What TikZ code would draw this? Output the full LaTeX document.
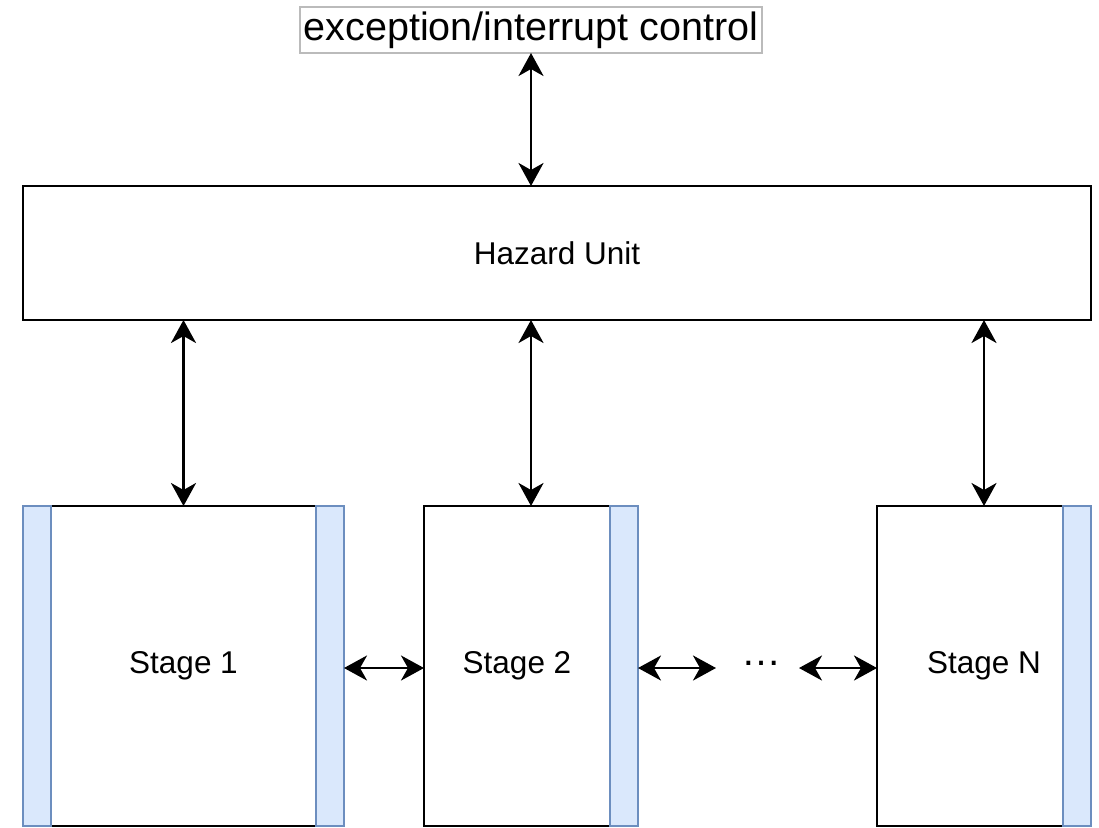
\documentclass[tikz,border=0pt]{standalone}
\usepackage{fontspec}
\setmainfont{Liberation Sans}
\usetikzlibrary{arrows.meta,positioning}
\definecolor{barfill}{HTML}{DAE8FC}
\definecolor{barline}{HTML}{6C8EBF}
\definecolor{tagline}{HTML}{BBBBBB}
\begin{document}
\begin{tikzpicture}[x=1pt,y=-1pt,
  box/.style={draw=black,line width=2.8pt,fill=white,inner sep=0pt,outer sep=0pt,anchor=north west,font=\fontsize{31.5}{36}\selectfont},
  bar/.style={draw=barline,line width=2.6pt,fill=barfill,inner sep=0pt,outer sep=0pt,anchor=north west,minimum width=28pt},
  unit/.style={inner sep=0pt,outer sep=0pt,anchor=north west},
  link/.style={line width=2.8pt,{Stealth[length=23pt,width=25pt,inset=7pt]}-{Stealth[length=23pt,width=25pt,inset=7pt]}}
]
\useasboundingbox (0,0) rectangle (1099,827);

% top label
\node[draw=tagline,line width=1.2pt,inner sep=0pt,outer sep=0pt,minimum width=462pt,minimum height=46pt,
      font=\fontsize{39.5}{44}\selectfont] (exc) at (531,30) {exception/interrupt control};

% hazard unit
\node[box,minimum width=1068pt,minimum height=134pt] (haz) at (23,186) {Hazard Unit};

% stage 1
\node[unit,minimum width=321pt,minimum height=320pt] (st1) at (23,506) {};
\node[box,minimum width=265pt,minimum height=320pt] (s1) at (51,506) {Stage 1};
\node[bar,minimum height=320pt] (s1l) at (23,506) {};
\node[bar,minimum height=320pt] (s1r) at (316,506) {};

% stage 2
\node[unit,minimum width=214pt,minimum height=320pt] (st2) at (424,506) {};
\node[box,minimum width=186pt,minimum height=320pt] (s2) at (424,506) {Stage 2};
\node[bar,minimum height=320pt] (s2r) at (610,506) {};

% stage N
\node[unit,minimum width=214pt,minimum height=320pt] (stn) at (877,506) {};
\node[box,minimum width=186pt,minimum height=320pt] (sn) at (877,506) {};
\node[font=\fontsize{31.5}{36}\selectfont] (snt) at (984,666) {Stage N};
\node[bar,minimum height=320pt] (snr) at (1063,506) {};

% ellipsis between stages
\node[font=\fontsize{40}{44}\selectfont,anchor=base,inner sep=0pt] (dots) at (761,665) {…};
\coordinate (dl) at (716,668);
\coordinate (dr) at (799,668);

% connectors
\draw[link] (exc.south) -- (exc.south |- haz.north);
\draw[link] (st1.north |- haz.south) -- (st1.north);
\draw[link] (st2.north |- haz.south) -- (st2.north);
\draw[link] (stn.north |- haz.south) -- (stn.north);
\draw[link] (s1r.east |- dl) -- (s2.west |- dl);
\draw[link] (s2r.east |- dl) -- (dl);
\draw[link] (dr) -- (sn.west |- dr);
\end{tikzpicture}
\end{document}
